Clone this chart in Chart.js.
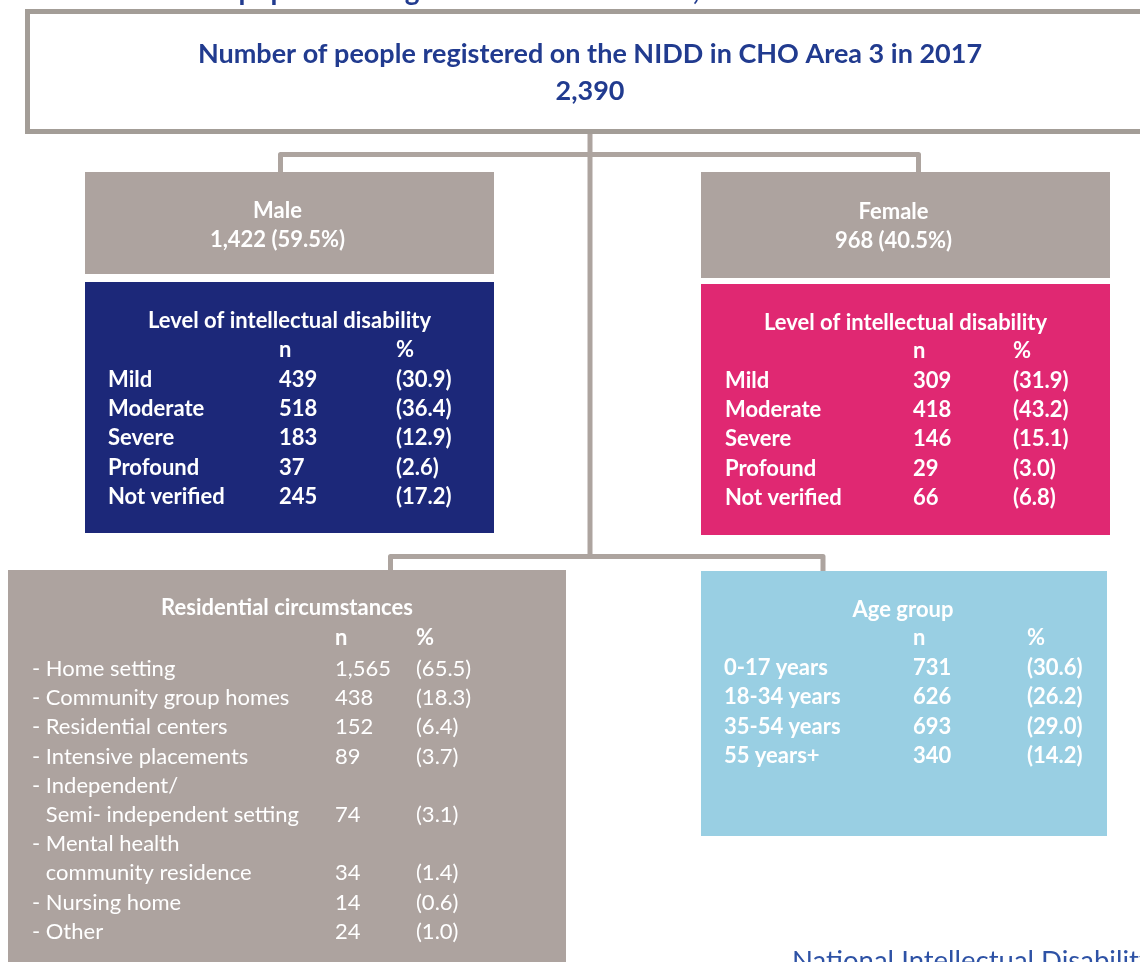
<!DOCTYPE html>
<html>
<head>
<meta charset="utf-8">
<script src="https://cdn.jsdelivr.net/npm/chart.js@4.4.1/dist/chart.umd.min.js"></script>
<style>
  html, body { margin: 0; padding: 0; background: #ffffff; }
  #wrap { width: 1140px; height: 962px; overflow: hidden; }
  canvas { display: block; }
</style>
</head>
<body>
<div id="wrap"><canvas id="c" width="1140" height="962"></canvas></div>
<script>
// ---------- Data ----------
const figureTitle = 'Structure of the population registered in CHO Area 3, 2017';
const headline = 'Number of people registered on the NIDD in CHO Area 3 in 2017';
const totalRegistered = 2390;
const genders = ['Male', 'Female'];
const genderN = [1422, 968];
const genderPct = [59.5, 40.5];

const levelTitle = 'Level of intellectual disability';
const levels = ['Mild', 'Moderate', 'Severe', 'Profound', 'Not verified'];
const maleLevelN = [439, 518, 183, 37, 245];
const maleLevelPct = [30.9, 36.4, 12.9, 2.6, 17.2];
const femaleLevelN = [309, 418, 146, 29, 66];
const femaleLevelPct = [31.9, 43.2, 15.1, 3.0, 6.8];

const residentialTitle = 'Residential circumstances';
const residentialLabels = [
  ['- Home setting'],
  ['- Community group homes'],
  ['- Residential centers'],
  ['- Intensive placements'],
  ['- Independent/', 'Semi- independent setting'],
  ['- Mental health', 'community residence'],
  ['- Nursing home'],
  ['- Other']
];
const residentialN = [1565, 438, 152, 89, 74, 34, 14, 24];
const residentialPct = [65.5, 18.3, 6.4, 3.7, 3.1, 1.4, 0.6, 1.0];

const ageTitle = 'Age group';
const ageGroups = ['0-17 years', '18-34 years', '35-54 years', '55 years+'];
const ageN = [731, 626, 693, 340];
const agePct = [30.6, 26.2, 29.0, 14.2];

const footerText = 'National Intellectual Disability';

// ---------- Styles ----------
const FONT = 'Lato, "Open Sans", sans-serif';
const FS = 22;
const C = {
  frame: '#a39d97',
  connector: '#ada49f',
  grey: '#ada39f',
  navy: '#1c2879',
  pink: '#e02872',
  sky: '#99cfe3',
  titleBlue: '#213b8f',
  footBlue: '#2e52a5',
  white: '#ffffff'
};

const fmtN = v => v.toLocaleString('en-US');
const fmtP = v => '(' + v.toFixed(1) + ')';

const diagramPlugin = {
  id: 'diagram',
  afterDraw(chart) {
    const ctx = chart.ctx;
    const sx = chart.scales.x, sy = chart.scales.y;
    const X = v => sx.getPixelForValue(v);
    const Y = v => sy.getPixelForValue(v);

    function txt(s, x, y, size, bold, align, color) {
      ctx.save();
      ctx.font = (bold ? 'bold ' : '') + size + 'px ' + FONT;
      ctx.fillStyle = color;
      ctx.textBaseline = 'alphabetic';
      ctx.textAlign = align || 'left';
      ctx.fillText(s, X(x), Y(y));
      ctx.restore();
    }
    function box(x0, y0, x1, y1, color) {
      ctx.fillStyle = color;
      ctx.fillRect(X(x0), Y(y0), X(x1) - X(x0), Y(y1) - Y(y0));
    }
    function path(pts, color, w) {
      ctx.save();
      ctx.strokeStyle = color;
      ctx.lineWidth = w;
      ctx.lineJoin = 'round';
      ctx.lineCap = 'butt';
      ctx.beginPath();
      pts.forEach((p, i) => i ? ctx.lineTo(X(p[0]), Y(p[1])) : ctx.moveTo(X(p[0]), Y(p[1])));
      ctx.stroke();
      ctx.restore();
    }

    // figure title (cut off at top)
    txt(figureTitle, 35, 0, 28, true, 'left', C.titleBlue);

    // connectors
    path([[590, 130], [590, 557]], C.connector, 5);
    path([[280.5, 174], [280.5, 154.5], [918.5, 154.5], [918.5, 174]], C.connector, 5);
    path([[390.5, 572], [390.5, 556.5], [823, 556.5], [823, 573]], C.connector, 5);

    // top frame
    ctx.save();
    ctx.fillStyle = '#ffffff';
    ctx.fillRect(X(27.5), Y(11.5), 1200, 120);
    ctx.strokeStyle = C.frame;
    ctx.lineWidth = 5;
    ctx.strokeRect(X(27.5), Y(11.5), 1200, 120);
    ctx.restore();
    txt(headline, 590, 63, 27, true, 'center', C.titleBlue);
    txt(fmtN(totalRegistered), 590, 100, 27, true, 'center', C.titleBlue);

    // gender boxes
    const gBoxes = [
      { x0: 85, x1: 494, y0: 172, y1: 274, ty: 218, ly0: 282, ly1: 533, col: C.navy,
        lx: 108, nx: 279, px: 396, tY: 328, hY: 357, rY: 387, n: maleLevelN, p: maleLevelPct },
      { x0: 701, x1: 1110, y0: 172, y1: 278, ty: 219, ly0: 284, ly1: 535, col: C.pink,
        lx: 725, nx: 913, px: 1013, tY: 330, hY: 358, rY: 388, n: femaleLevelN, p: femaleLevelPct }
    ];
    gBoxes.forEach((b, gi) => {
      const cx = (b.x0 + b.x1) / 2;
      box(b.x0, b.y0, b.x1, b.y1, C.grey);
      txt(genders[gi], cx - 12, b.ty, FS, true, 'center', C.white);
      txt(fmtN(genderN[gi]) + ' (' + genderPct[gi].toFixed(1) + '%)', cx - 12, b.ty + 29, FS, true, 'center', C.white);
      box(b.x0, b.ly0, b.x1, b.ly1, b.col);
      txt(levelTitle, cx, b.tY, FS, true, 'center', C.white);
      txt('n', b.nx, b.hY, FS, true, 'left', C.white);
      txt('%', b.px, b.hY, FS, true, 'left', C.white);
      levels.forEach((l, i) => {
        const yy = b.rY + i * 29.2;
        txt(l, b.lx, yy, FS, true, 'left', C.white);
        txt(fmtN(b.n[i]), b.nx, yy, FS, true, 'left', C.white);
        txt(fmtP(b.p[i]), b.px, yy, FS, true, 'left', C.white);
      });
    });

    // residential box
    box(8, 570, 566, 980, C.grey);
    txt(residentialTitle, 287, 615, FS, true, 'center', C.white);
    txt('n', 335, 645, FS, true, 'left', C.white);
    txt('%', 416, 645, FS, true, 'left', C.white);
    ctx.save();
    ctx.font = FS + 'px ' + FONT;
    const dashW = ctx.measureText('- ').width;
    ctx.restore();
    let line = 0;
    residentialLabels.forEach((lab, i) => {
      lab.forEach((s, j) => {
        const yy = 676 + line * 29.2;
        txt(s, j ? 32 + dashW : 32, yy, FS, false, 'left', C.white);
        if (j === lab.length - 1) {
          txt(fmtN(residentialN[i]), 335, yy, FS, false, 'left', C.white);
          txt(fmtP(residentialPct[i]), 416, yy, FS, false, 'left', C.white);
        }
        line++;
      });
    });

    // age box
    box(701, 571, 1107, 836, C.sky);
    txt(ageTitle, 903, 617, FS, true, 'center', C.white);
    txt('n', 913, 645, FS, true, 'left', C.white);
    txt('%', 1027, 645, FS, true, 'left', C.white);
    ageGroups.forEach((g, i) => {
      const yy = 675 + i * 29.3;
      txt(g, 724, yy, FS, true, 'left', C.white);
      txt(fmtN(ageN[i]), 913, yy, FS, true, 'left', C.white);
      txt(fmtP(agePct[i]), 1027, yy, FS, true, 'left', C.white);
    });

    // footer
    txt(footerText, 792, 970, 27.5, false, 'left', C.footBlue);
  }
};

new Chart(document.getElementById('c'), {
  type: 'scatter',
  data: { datasets: [{ data: [], pointRadius: 0 }] },
  options: {
    responsive: false,
    animation: false,
    devicePixelRatio: 1,
    layout: { padding: 0 },
    plugins: { legend: { display: false }, tooltip: { enabled: false } },
    scales: {
      x: { type: 'linear', min: 0, max: 1140, display: false },
      y: { type: 'linear', min: 0, max: 962, reverse: true, display: false }
    }
  },
  plugins: [diagramPlugin]
});
</script>
</body>
</html>
